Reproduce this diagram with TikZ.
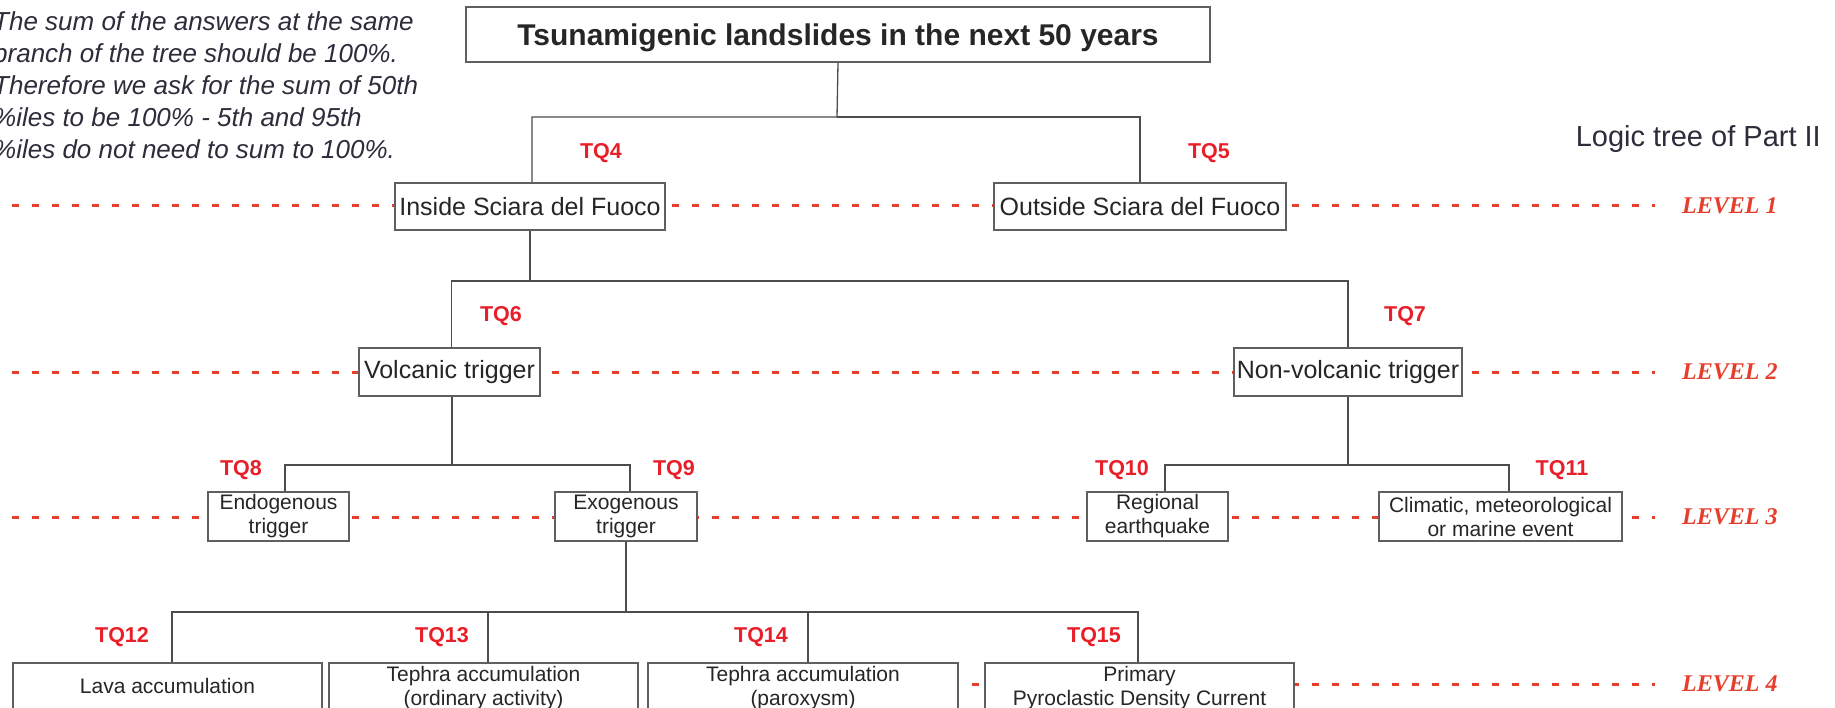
\documentclass[tikz,border=0pt]{standalone}
\usepackage{fontspec}
\setmainfont{Liberation Sans}
\newfontfamily\levelfont{Liberation Serif}
\definecolor{tqred}{RGB}{232,30,40}
\definecolor{levelred}{RGB}{230,62,44}
\definecolor{boxgray}{RGB}{95,95,95}
\definecolor{notegray}{RGB}{44,44,58}
\tikzstyle{treebox}=[draw=boxgray,fill=white,line width=1.3pt,text=black!85,inner sep=0pt]
\tikzstyle{titlebox}=[treebox,text depth=0pt,font=\bfseries\fontsize{30}{36}\selectfont]
\tikzstyle{bigbox}=[treebox,font=\fontsize{25}{30}\selectfont]
\tikzstyle{smallbox}=[treebox,align=center,font=\fontsize{21}{24}\selectfont]
\tikzstyle{link}=[draw=black!70,line width=1.3pt]
\tikzstyle{tq}=[text=tqred,inner sep=0pt,font=\bfseries\fontsize{21.5}{26}\selectfont]
\tikzstyle{levellabel}=[text=levelred,anchor=west,inner sep=0pt,font=\levelfont\bfseries\itshape\fontsize{24}{28}\selectfont]
\tikzstyle{levelline}=[draw=levelred,line width=3pt,dash pattern=on 7pt off 13pt]

\begin{document}
\begin{tikzpicture}[x=1pt,y=-1pt]
  \useasboundingbox (0,0) rectangle (1835,708);
  \clip (0,0) rectangle (1835,708);

  \node[anchor=north west,align=left,inner sep=0pt,text=notegray,font=\itshape\fontsize{26}{32}\selectfont] (note) at (-7,11.5)
    {The sum of the answers at the same\\branch of the tree should be 100\%.\\Therefore we ask for the sum of 50th\\\%iles to be 100\% - 5th and 95th\\\%iles do not need to sum to 100\%.};
  \node[anchor=base east,inner sep=0pt,text=notegray,font=\fontsize{29}{35}\selectfont] (caption) at (1821,147) {Logic tree of Part II};

  \node[levellabel] (lvl1) at (1682,206) {LEVEL 1};
  \node[levellabel] (lvl2) at (1682,372) {LEVEL 2};
  \node[levellabel] (lvl3) at (1682,517) {LEVEL 3};
  \node[levellabel] (lvl4) at (1682,684) {LEVEL 4};
  \draw[levelline] (12,206) -- ([xshift=-27pt]lvl1.west);
  \draw[levelline] (12,372) -- ([xshift=-27pt]lvl2.west);
  \draw[levelline] (12,517) -- ([xshift=-27pt]lvl3.west);
  \draw[levelline] (12,684) -- ([xshift=-27pt]lvl4.west);

  \node[titlebox,minimum width=744pt,minimum height=55pt] (top) at (838,34.5) {Tsunamigenic landslides in the next 50 years};

  \node[bigbox,minimum width=270pt,minimum height=47pt] (inside) at (530,206.5) {Inside Sciara del Fuoco};
  \node[bigbox,minimum width=292pt,minimum height=47pt] (outside) at (1140,206.5) {Outside Sciara del Fuoco};

  \node[bigbox,minimum width=181pt,minimum height=48pt] (volc) at (449.5,372) {Volcanic trigger};
  \node[bigbox,minimum width=228pt,minimum height=48pt] (nonvolc) at (1348,372) {Non-volcanic trigger};

  \node[smallbox,minimum width=141pt,minimum height=49pt] (endo) at (278.5,516.5) {Endogenous\\trigger};
  \node[smallbox,minimum width=142pt,minimum height=49pt] (exo) at (626,516.5) {Exogenous\\trigger};
  \node[smallbox,minimum width=141pt,minimum height=49pt] (quake) at (1157.5,516.5) {Regional\\earthquake};
  \node[smallbox,minimum width=243pt,minimum height=49pt] (marine) at (1500.5,516.5) {Climatic, meteorological\\or marine event};

  \node[smallbox,minimum width=309pt,minimum height=46pt] (lava) at (167.5,686) {Lava accumulation};
  \node[smallbox,minimum width=309pt,minimum height=50pt] (tephra) at (483.5,688) {Tephra accumulation\\(ordinary activity)};
  \node[smallbox,minimum width=310pt,minimum height=50pt] (parox) at (803,688) {Tephra accumulation\\(paroxysm)};
  \node[smallbox,minimum width=309pt,minimum height=50pt] (pdc) at (1139.5,688) {Primary\\Pyroclastic Density Current};

  \coordinate (j1) at (837,117);
  \coordinate (j2) at (530,281);
  \coordinate (j3) at (452,465);
  \coordinate (j4) at (1348,465);
  \coordinate (j5) at (626,612);

  \draw[link] (top.south) -- (j1) -| ([xshift=2pt]inside.north);
  \draw[link] (j1) -| (outside.north);
  \draw[link] (inside.south) -- (j2) -| ([xshift=2pt]volc.north);
  \draw[link] (j2) -| (nonvolc.north);
  \draw[link] ([xshift=2.5pt]volc.south) -- (j3) -| ([xshift=6.5pt]endo.north);
  \draw[link] (j3) -| ([xshift=4pt]exo.north);
  \draw[link] (nonvolc.south) -- (j4) -| ([xshift=7.5pt]quake.north);
  \draw[link] (j4) -| ([xshift=8.5pt]marine.north);
  \draw[link] (exo.south) -- (j5) -| ([xshift=4.5pt]lava.north);
  \draw[link] (j5) -| ([xshift=4.5pt]tephra.north);
  \draw[link] (j5) -| ([xshift=5pt]parox.north);
  \draw[link] (j5) -| ([xshift=-1.5pt]pdc.north);

  \node[tq] (tq4) at (601,153) {TQ4};
  \node[tq] (tq5) at (1209,153) {TQ5};
  \node[tq] (tq6) at (501,316) {TQ6};
  \node[tq] (tq7) at (1405,316) {TQ7};
  \node[tq] (tq8) at (241,470) {TQ8};
  \node[tq] (tq9) at (674,470) {TQ9};
  \node[tq] (tq10) at (1122,470) {TQ10};
  \node[tq] (tq11) at (1562,470) {TQ11};
  \node[tq] (tq12) at (122,637) {TQ12};
  \node[tq] (tq13) at (442,637) {TQ13};
  \node[tq] (tq14) at (761,637) {TQ14};
  \node[tq] (tq15) at (1094,637) {TQ15};
\end{tikzpicture}
\end{document}
